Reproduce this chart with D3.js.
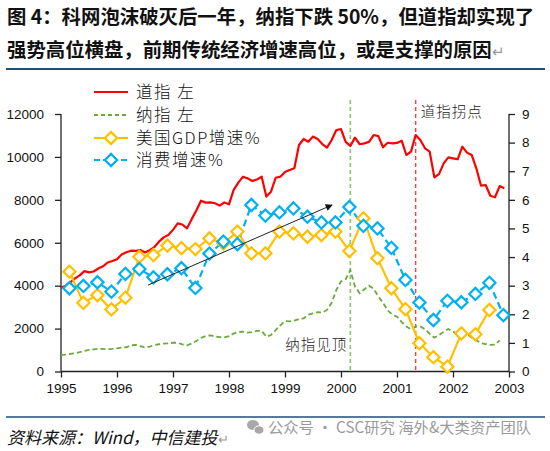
<!DOCTYPE html>
<html><head><meta charset="utf-8">
<script src="https://cdn.jsdelivr.net/npm/d3@7/dist/d3.min.js"></script>
<style>
html,body{margin:0;padding:0;background:#fff;}
svg{display:block;}
</style></head>
<body>
<svg id="c" width="550" height="451"></svg>
<script>
// ---------- data ----------
const startYear = 1995;
// Dow Jones (left axis), monthly Jan 1995 - Dec 2002
const dow = [3900,4000,4150,4340,4480,4680,4620,4660,4800,4900,5080,5150,
  5230,5450,5560,5630,5620,5660,5550,5650,5800,6050,6250,6360,
  6600,6900,6850,6670,7100,7500,7960,7870,7880,7840,7730,7880,
  7790,8460,8800,9080,9000,8880,8950,9080,8150,8380,9030,9080,
  9300,9390,9470,10555,10835,10710,10950,10835,10600,10430,10790,11250,
  11300,10700,10510,10900,10590,10630,10700,11020,10970,10450,10660,10630,
  10650,10755,10090,10245,11020,10790,10400,10245,9050,9200,9700,9980,
  9935,9890,10475,10200,10090,9470,8660,8690,8190,8120,8640,8540];
// Nasdaq (left axis), monthly Jan 1995 - Nov 2002
const nasdaq = [770,790,820,850,900,960,1010,1030,1060,1050,1040,1050,
  1080,1110,1130,1220,1240,1180,1120,1160,1230,1270,1300,1310,
  1340,1340,1260,1220,1300,1420,1560,1650,1680,1640,1600,1590,
  1650,1770,1840,1860,1810,1840,1890,1890,1620,1700,1930,2150,
  2350,2340,2370,2450,2480,2650,2710,2760,2750,2870,3200,3800,
  4200,4300,4730,3950,3650,3830,4000,3850,3500,3200,2850,2650,
  2550,2300,2100,1970,2100,2100,1970,1750,1580,1700,1850,1980,
  1850,1780,1790,1750,1580,1450,1320,1280,1240,1250,1450];
// US real GDP growth % (right axis), quarterly 1995Q1 - 2002Q3
const gdp = [3.49,2.40,2.67,2.17,2.58,4.01,4.07,4.40,4.31,4.28,4.65,4.48,
  4.89,4.13,4.13,4.89,4.83,4.71,4.77,4.89,4.21,5.35,3.96,2.91,
  2.18,0.99,0.50,0.17,1.33,1.30,2.15];
// Consumption growth % (right axis), quarterly 1995Q1 - 2002Q4
const cons = [2.91,2.99,3.12,2.79,3.41,3.58,3.29,3.40,3.61,2.92,4.12,4.54,
  4.45,5.82,5.45,5.56,5.70,5.41,5.21,5.21,5.75,5.09,5.00,4.32,
  3.20,2.41,1.80,2.47,2.42,2.71,3.10,1.97];

const leftTicks = [0,2000,4000,6000,8000,10000,12000];
const rightTicks = [0,1,2,3,4,5,6,7,8,9];
const yearTicks = [1995,1996,1997,1998,1999,2000,2001,2002,2003];

const legendLabels = ["道指 左","纳指 左","美国GDP增速%","消费增速%"];
const nasdaqPeak = 2000 + 2/12;     // 纳指见顶
const dowTurn = 2001 + 4/12;        // 道指拐点
const trendArrow = [[1996.555,4030],[1999.84,7760]];

const titleLines = ["图 4：科网泡沫破灭后一年，纳指下跌 50%，但道指却实现了",
                    "强势高位横盘，前期传统经济增速高位，或是支撑的原因"];
const sourceText = "资料来源：Wind，中信建投";
const watermark = "公众号 · CSC研究 海外&大类资产团队";

// ---------- drawing ----------
const svg = d3.select("#c");
const numFont = "'Liberation Sans', Arial, sans-serif";
const cjk = "'Noto Sans CJK SC', sans-serif";

const x = d3.scaleLinear().domain([1995,2003]).range([61,509]);
const yL = d3.scaleLinear().domain([0,12000]).range([371.5,114]);
const yR = d3.scaleLinear().domain([0,9]).range([371.5,114]);

const monthT = i => startYear + i/12;
const quarterT = i => startYear + 0.15 + i*0.25;

// Title
svg.append("text").attr("x",7).attr("y",24)
  .attr("font-family",cjk).attr("font-weight","bold").attr("font-size",19.4)
  .attr("fill","#111").text(titleLines[0]);
const t2 = svg.append("text").attr("x",7).attr("y",57)
  .attr("font-family",cjk).attr("font-weight","bold").attr("font-size",19.4)
  .attr("fill","#111");
t2.append("tspan").text(titleLines[1]);
t2.append("tspan").attr("font-weight","normal").attr("fill","#999").attr("font-size",15).text("↵");
svg.append("line").attr("x1",6).attr("x2",545).attr("y1",69).attr("y2",69)
  .attr("stroke","#1F4E79").attr("stroke-width",2);

// Axes
const gL = svg.append("g").attr("transform","translate(61,0)")
  .call(d3.axisLeft(yL).tickValues(leftTicks).tickSize(6).tickPadding(11).tickFormat(d3.format("d")));
const gR = svg.append("g").attr("transform","translate(509,0)")
  .call(d3.axisRight(yR).tickValues(rightTicks).tickSize(6).tickPadding(7).tickFormat(d3.format("d")));
const gX = svg.append("g").attr("transform","translate(0,371.5)")
  .call(d3.axisBottom(x).tickValues(yearTicks).tickSize(6).tickPadding(6).tickFormat(d3.format("d")));
[gL,gR,gX].forEach(g=>{
  g.selectAll("path").attr("stroke","#222").attr("stroke-width",1.3);
  g.selectAll("line").attr("stroke","#222").attr("stroke-width",1.3);
  g.selectAll("text").attr("font-family",numFont).attr("font-size",13.5).attr("fill","#111");
});
gL.select("path").attr("d","M0,114V371.5");
gR.select("path").attr("d","M0,114V371.5");
gX.select("path").attr("d","M61,0H509");

// Vertical markers
svg.append("line").attr("x1",x(nasdaqPeak)).attr("x2",x(nasdaqPeak)).attr("y1",100).attr("y2",371.5)
  .attr("stroke","#8CC46A").attr("stroke-width",1.6).attr("stroke-dasharray","4,3");
svg.append("line").attr("x1",x(dowTurn)).attr("x2",x(dowTurn)).attr("y1",100).attr("y2",371.5)
  .attr("stroke","#FF3B3B").attr("stroke-width",1.4).attr("stroke-dasharray","4,3");
svg.append("text").attr("x",x(nasdaqPeak)-3).attr("y",350).attr("text-anchor","end")
  .attr("font-family",cjk).attr("font-weight",300).attr("font-size",14.5).attr("fill","#222").attr("letter-spacing",1)
  .text("纳指见顶");
svg.append("text").attr("x",x(dowTurn)+5).attr("y",117)
  .attr("font-family",cjk).attr("font-weight",300).attr("font-size",14.5).attr("fill","#222").attr("letter-spacing",1)
  .text("道指拐点");

// Lines
const lineL = d3.line().x(d=>x(d[0])).y(d=>yL(d[1]));
const lineR = d3.line().x(d=>x(d[0])).y(d=>yR(d[1]));

svg.append("path").datum(nasdaq.map((v,i)=>[monthT(i),v])).attr("d",lineL)
  .attr("fill","none").attr("stroke","#6AAA3E").attr("stroke-width",1.8).attr("stroke-dasharray","5,3");
svg.append("path").datum(dow.map((v,i)=>[monthT(i),v])).attr("d",lineL)
  .attr("fill","none").attr("stroke","#FF0000").attr("stroke-width",2.2).attr("stroke-linejoin","round");

const diamond = d3.symbol().type(d3.symbolDiamond2).size(95);

const gdpPts = gdp.map((v,i)=>[quarterT(i),v]);
svg.append("path").datum(gdpPts).attr("d",lineR)
  .attr("fill","none").attr("stroke","#FFC000").attr("stroke-width",2.2);
const consPts = cons.map((v,i)=>[quarterT(i),v]);
svg.append("path").datum(consPts).attr("d",lineR)
  .attr("fill","none").attr("stroke","#00B0F0").attr("stroke-width",2.2).attr("stroke-dasharray","7,4");

svg.append("g").selectAll("path").data(gdpPts).join("path")
  .attr("transform",d=>`translate(${x(d[0])},${yR(d[1])})`).attr("d",diamond)
  .attr("fill","#fff").attr("stroke","#FFC000").attr("stroke-width",2.2);
svg.append("g").selectAll("path").data(consPts).join("path")
  .attr("transform",d=>`translate(${x(d[0])},${yR(d[1])})`).attr("d",diamond)
  .attr("fill","#fff").attr("stroke","#00B0F0").attr("stroke-width",2.2);

// Arrow
svg.append("defs").append("marker").attr("id","ah").attr("viewBox","0 0 10 10")
  .attr("refX",9).attr("refY",5).attr("markerWidth",9).attr("markerHeight",7)
  .attr("markerUnits","userSpaceOnUse").attr("orient","auto")
  .append("path").attr("d","M0,0L10,5L0,10Z").attr("fill","#111");
svg.append("line")
  .attr("x1",x(trendArrow[0][0])).attr("y1",yL(trendArrow[0][1]))
  .attr("x2",x(trendArrow[1][0])).attr("y2",yL(trendArrow[1][1]))
  .attr("stroke","#222").attr("stroke-width",1).attr("marker-end","url(#ah)");

// Legend
const lg = svg.append("g");
const rows = [92,115,138,160];
const lx0 = 94, lx1 = 128;
lg.append("line").attr("x1",lx0).attr("x2",lx1).attr("y1",rows[0]).attr("y2",rows[0])
  .attr("stroke","#FF0000").attr("stroke-width",2.2);
lg.append("line").attr("x1",lx0).attr("x2",lx1).attr("y1",rows[1]).attr("y2",rows[1])
  .attr("stroke","#6AAA3E").attr("stroke-width",1.8).attr("stroke-dasharray","4,3");
lg.append("line").attr("x1",lx0).attr("x2",lx1).attr("y1",rows[2]).attr("y2",rows[2])
  .attr("stroke","#FFC000").attr("stroke-width",2.2);
lg.append("path").attr("transform",`translate(${(lx0+lx1)/2},${rows[2]})`).attr("d",diamond)
  .attr("fill","#fff").attr("stroke","#FFC000").attr("stroke-width",2.2);
lg.append("line").attr("x1",lx0).attr("x2",lx1).attr("y1",rows[3]).attr("y2",rows[3])
  .attr("stroke","#00B0F0").attr("stroke-width",2.2).attr("stroke-dasharray","6,3");
lg.append("path").attr("transform",`translate(${(lx0+lx1)/2},${rows[3]})`).attr("d",diamond)
  .attr("fill","#fff").attr("stroke","#00B0F0").attr("stroke-width",2.2);
legendLabels.forEach((t,i)=>{
  lg.append("text").attr("x",136).attr("y",rows[i]+6)
    .attr("font-family",cjk).attr("font-weight",300).attr("font-size",16.5).attr("fill","#111")
    .attr("letter-spacing",1.5).text(t);
});

// Footer
svg.append("line").attr("x1",6).attr("x2",545).attr("y1",417).attr("y2",417)
  .attr("stroke","#1F4E79").attr("stroke-width",1.5);
const ft = svg.append("text").attr("x",7).attr("y",444)
  .attr("font-family",cjk).attr("font-style","italic").attr("font-size",17).attr("fill","#111");
ft.append("tspan").text(sourceText);
ft.append("tspan").attr("fill","#999").attr("font-size",13).attr("font-style","normal").text("↵");
const ic = svg.append("g").attr("fill","#a8a8a8");
ic.append("ellipse").attr("cx",253).attr("cy",425).attr("rx",6).attr("ry",5);
ic.append("ellipse").attr("cx",259).attr("cy",430).attr("rx",5).attr("ry",4.2).attr("stroke","#fff").attr("stroke-width",1);
svg.append("text").attr("x",268).attr("y",433)
  .attr("font-family",cjk).attr("font-size",15.3).attr("fill","#9a9a9a").text(watermark);
</script>
</body></html>
